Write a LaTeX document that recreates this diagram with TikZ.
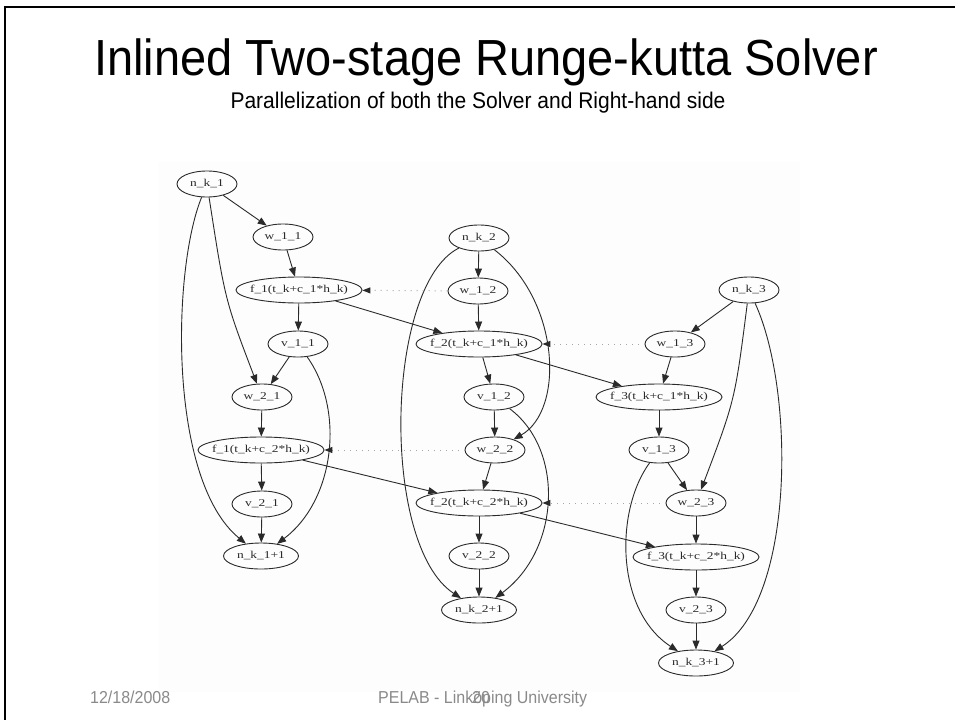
\documentclass[tikz,border=0pt]{standalone}
\usepackage{fontspec}
\setmainfont{Liberation Sans}
\newfontfamily\gvfont[FakeStretch=1.28]{Liberation Serif}
\usetikzlibrary{shapes.geometric,arrows.meta}
\definecolor{edgecol}{HTML}{2A2A2A}
\definecolor{footgray}{HTML}{8A8A8A}
\definecolor{panel}{HTML}{FDFDFD}

\begin{document}
\begin{tikzpicture}[x=1pt,y=-1pt,
  gv/.style={ellipse, draw=edgecol, line width=0.9pt, inner xsep=-5pt, inner ysep=0pt,
             minimum height=26pt, minimum width=60pt,
             font=\gvfont\fontsize{10.5}{12}\selectfont, text=edgecol},
  fn/.style={gv, minimum width=126pt},
  sink/.style={gv, minimum width=75pt},
  edge/.style={draw=edgecol, line width=0.9pt, -{Triangle[length=9pt,width=7pt]}},
  sync/.style={draw=gray!70, line width=1pt, dash pattern=on 1pt off 5pt,
               -{Triangle[length=8pt,width=6pt,color=edgecol]}},
  foot/.style={inner sep=0pt, text=footgray, font=\fontsize{16}{18}\selectfont}]

\useasboundingbox (0,0) rectangle (955,720);
\fill[white] (0,0) rectangle (955,720);
\fill[panel] (158,162) rectangle (800,692);

% slide frame
\draw[line width=2pt] (5,720) -- (5,7) -- (955,7);

% headings
\node[inner sep=0pt, anchor=base, font=\fontsize{47}{50}\selectfont] (title) at (486,75)
  {\scalebox{1}[1.08]{Inlined Two-stage Runge-kutta Solver}};
\node[inner sep=0pt, anchor=base, font=\fontsize{21}{24}\selectfont] (subtitle) at (478,108)
  {\scalebox{1}[1.08]{Parallelization of both the Solver and Right-hand side}};

% task graph: stage 1
\node[gv]   (nk1)  at (207,184) {n\_k\_1};
\node[gv]   (w11)  at (283,237) {w\_1\_1};
\node[fn]   (f11)  at (299,290) {f\_1(t\_k+c\_1*h\_k)};
\node[gv]   (v11)  at (298,344) {v\_1\_1};
\node[gv]   (w21)  at (262,397) {w\_2\_1};
\node[fn]   (f12)  at (261,450) {f\_1(t\_k+c\_2*h\_k)};
\node[gv]   (v21)  at (262,504) {v\_2\_1};
\node[sink] (nk1p) at (261,556) {n\_k\_1+1};

% stage 2
\node[gv]   (nk2)  at (479,238) {n\_k\_2};
\node[gv]   (w12)  at (478,291) {w\_1\_2};
\node[fn]   (f21)  at (479,344) {f\_2(t\_k+c\_1*h\_k)};
\node[gv]   (v12)  at (494,397) {v\_1\_2};
\node[gv]   (w22)  at (495,450) {w\_2\_2};
\node[fn]   (f22)  at (479,503) {f\_2(t\_k+c\_2*h\_k)};
\node[gv]   (v22)  at (479,556) {v\_2\_2};
\node[sink] (nk2p) at (479,610) {n\_k\_2+1};

% stage 3
\node[gv]   (nk3)  at (749,290) {n\_k\_3};
\node[gv]   (w13)  at (675,344) {w\_1\_3};
\node[fn]   (f31)  at (659,397) {f\_3(t\_k+c\_1*h\_k)};
\node[gv]   (v13)  at (659,450) {v\_1\_3};
\node[gv]   (w23)  at (696,503) {w\_2\_3};
\node[fn]   (f32)  at (696,557) {f\_3(t\_k+c\_2*h\_k)};
\node[gv]   (v23)  at (696,610) {v\_2\_3};
\node[sink] (nk3p) at (696,663) {n\_k\_3+1};

% dependencies, stage 1
\draw[edge] (nk1) -- (w11);
\draw[edge] (nk1) .. controls (225,300) .. (w21);
\draw[edge] (nk1) .. controls (172,270) and (168,480) .. (nk1p);
\draw[edge] (w11) -- (f11);
\draw[edge] (f11) -- (v11);
\draw[edge] (f11) -- (f21);
\draw[edge] (v11) -- (w21);
\draw[edge] (v11) .. controls (345,410) and (335,500) .. (nk1p);
\draw[edge] (w21) -- (f12);
\draw[edge] (f12) -- (v21);
\draw[edge] (f12) -- (f22);
\draw[edge] (v21) -- (nk1p);

% dependencies, stage 2
\draw[edge] (nk2) -- (w12);
\draw[edge] (nk2) .. controls (385,285) and (380,545) .. (nk2p);
\draw[edge] (nk2) .. controls (560,300) and (565,410) .. (w22);
\draw[edge] (w12) -- (f21);
\draw[edge] (f21) -- (v12);
\draw[edge] (f21) -- (f31);
\draw[edge] (v12) -- (w22);
\draw[edge] (v12) .. controls (565,450) and (560,550) .. (nk2p);
\draw[edge] (w22) -- (f22);
\draw[edge] (f22) -- (v22);
\draw[edge] (f22) -- (f32);
\draw[edge] (v22) -- (nk2p);

% dependencies, stage 3
\draw[edge] (nk3) -- (w13);
\draw[edge] (nk3) .. controls (735,400) .. (w23);
\draw[edge] (nk3) .. controls (795,390) and (795,600) .. (nk3p);
\draw[edge] (w13) -- (f31);
\draw[edge] (f31) -- (v13);
\draw[edge] (v13) -- (w23);
\draw[edge] (v13) .. controls (615,510) and (615,610) .. (nk3p);
\draw[edge] (w23) -- (f32);
\draw[edge] (f32) -- (v23);
\draw[edge] (v23) -- (nk3p);

% synchronisation links
\draw[sync] (w12) -- (f11);
\draw[sync] (w22) -- (f12);
\draw[sync] (w13) -- (f21);
\draw[sync] (w23) -- (f22);

% footer
\node[foot, anchor=base west] (date) at (90,703) {\scalebox{1}[1.08]{12/18/2008}};
\node[foot, anchor=base west] (inst) at (378,703) {\scalebox{1}[1.08]{PELAB - Linköping University}};
\node[foot, anchor=base] (page) at (481,703) {\scalebox{1}[1.08]{20}};
\end{tikzpicture}
\end{document}
